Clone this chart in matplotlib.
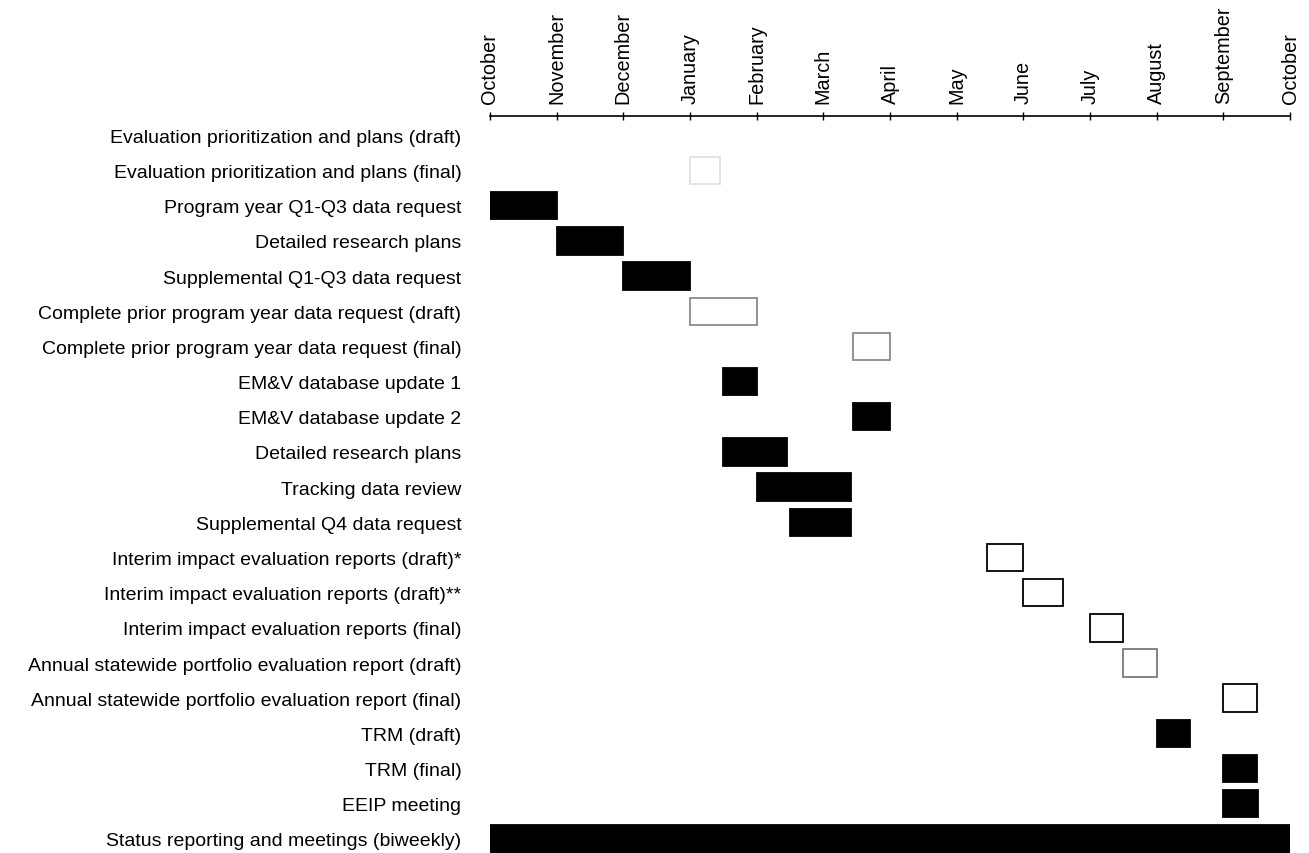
import matplotlib.pyplot as plt

plt.rcParams['font.family'] = ['Liberation Sans', 'DejaVu Sans']

# Tasks (top to bottom), start and length in months counted from October
tasks = [
    'Evaluation prioritization and plans (draft)',
    'Evaluation prioritization and plans (final)',
    'Program year Q1-Q3 data request',
    'Detailed research plans',
    'Supplemental Q1-Q3 data request',
    'Complete prior program year data request (draft)',
    'Complete prior program year data request (final)',
    'EM&V database update 1',
    'EM&V database update 2',
    'Detailed research plans',
    'Tracking data review',
    'Supplemental Q4 data request',
    'Interim impact evaluation reports (draft)*',
    'Interim impact evaluation reports (draft)**',
    'Interim impact evaluation reports (final)',
    'Annual statewide portfolio evaluation report (draft)',
    'Annual statewide portfolio evaluation report (final)',
    'TRM (draft)',
    'TRM (final)',
    'EEIP meeting',
    'Status reporting and meetings (biweekly)',
]
start = [3.0, 3.0, 0.0, 1.0, 2.0, 3.0, 5.45, 3.5, 5.45, 3.5, 4.0, 4.5,
         7.45, 8.0, 9.0, 9.5, 11.0, 10.0, 11.0, 11.0, 0.0]
duration = [0.0, 0.45, 1.0, 1.0, 1.0, 1.0, 0.55, 0.5, 0.55, 0.95, 1.42, 0.92,
            0.55, 0.6, 0.5, 0.5, 0.5, 0.5, 0.5, 0.52, 12.0]
fill = ['white', 'white', 'black', 'black', 'black', 'white', 'white', 'black',
        'black', 'black', 'black', 'black', 'white', 'white', 'white', 'white',
        'white', 'black', 'black', 'black', 'black']
edge = ['white', '#e2e2e2', 'black', 'black', 'black', '#8a8a8a', '#8a8a8a', 'black',
        'black', 'black', 'black', 'black', 'black', 'black', 'black', '#7a7a7a',
        'black', 'black', 'black', 'black', 'black']

months = ['October', 'November', 'December', 'January', 'February', 'March',
          'April', 'May', 'June', 'July', 'August', 'September', 'October']

fig = plt.figure(figsize=(13.09, 8.54), dpi=100)
ax = fig.add_axes([0.3743, 0.0, 0.6112, 0.863])

rows = list(range(len(tasks)))
ax.barh(rows, duration, left=start, height=0.78, color=fill,
        edgecolor=edge, linewidth=1.3)

ax.set_xlim(0, 12)
ax.set_ylim(20.4, -0.55)

ax.xaxis.tick_top()
ax.set_xticks(range(len(months)))
ax.set_xticklabels(months, rotation=90)
ax.tick_params(axis='x', direction='inout', length=6, width=1, pad=6,
               labelsize=14.3)

ax.set_yticks(rows)
ax.set_yticklabels(tasks)
ax.tick_params(axis='y', left=False, pad=17, labelsize=14)

for side in ['left', 'right', 'bottom']:
    ax.spines[side].set_visible(False)
ax.spines['top'].set_linewidth(1.2)

fig.savefig('out.png', dpi=100)
